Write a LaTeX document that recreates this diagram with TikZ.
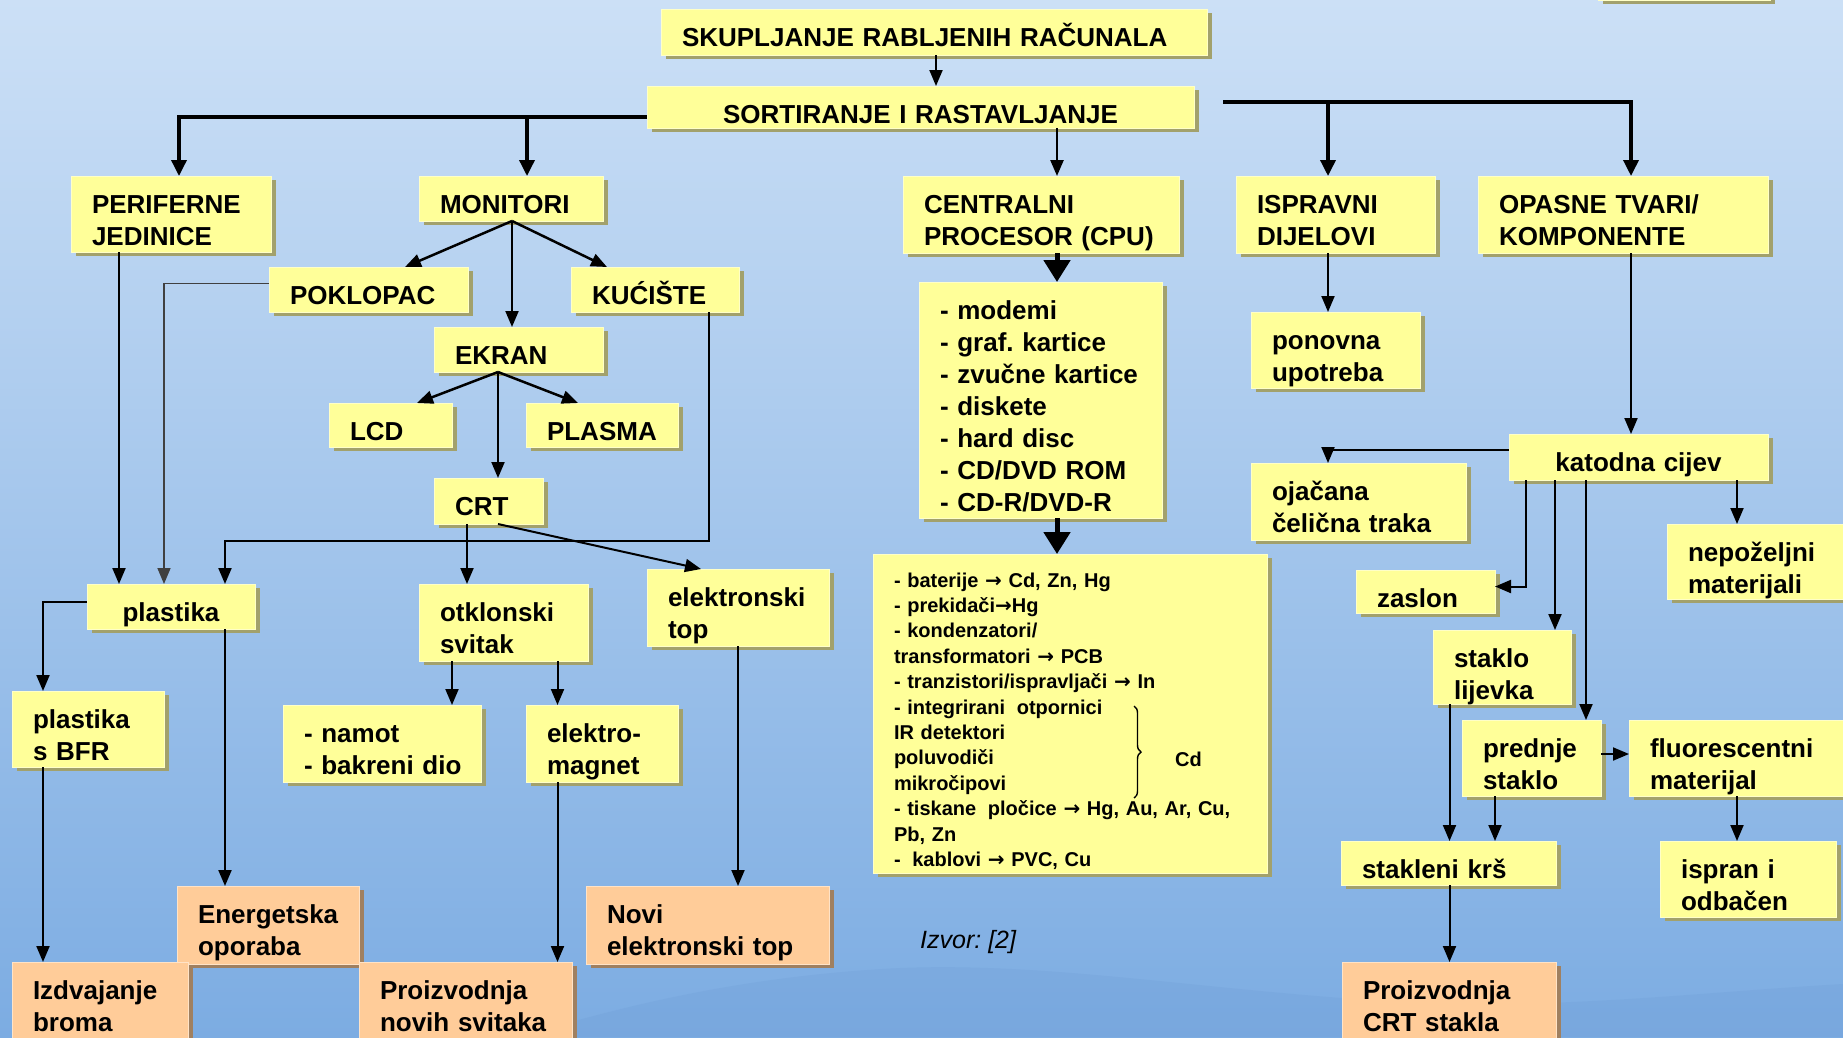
\documentclass[tikz,border=0pt]{standalone}
\usepackage{fontspec}
\setmainfont{Liberation Sans}
\newfontfamily\arrowfont{DejaVu Sans}
\usetikzlibrary{arrows.meta,shadows,decorations.pathreplacing}
\frenchspacing

\definecolor{bgtop}{HTML}{CCE0F6}
\definecolor{bgmid}{HTML}{96BEEC}
\definecolor{bgbot}{HTML}{7CACE2}
\definecolor{hill}{HTML}{6E9CD6}
\definecolor{boxyellow}{HTML}{FFFF99}
\definecolor{shadowyel}{HTML}{A2A16C}
\definecolor{boxorange}{HTML}{FFCC99}
\definecolor{shadoworg}{HTML}{A08060}

\newcommand{\tto}{{\arrowfont →}}

\begin{document}
\begin{tikzpicture}[x=1pt, y=-1pt,
  basebox/.style={anchor=north west, align=left, inner xsep=21pt, inner ysep=0pt,
    outer sep=0pt, text height=37pt, line width=1pt,
    font=\bfseries\fontsize{26}{32}\selectfont},
  ybox/.style={basebox, fill=boxyellow, draw=boxyellow!55!white,
    drop shadow={shadow xshift=5pt, shadow yshift=-4pt, fill=shadowyel, opacity=1}},
  obox/.style={basebox, fill=boxorange, draw=boxorange!55!white,
    drop shadow={shadow xshift=5pt, shadow yshift=-4pt, fill=shadoworg, opacity=1}},
  wh/.style 2 args={text width=#1pt-42pt, text depth=#2pt-37pt},
  arr/.style={-{Triangle[length=16pt,width=13pt]}, line width=2pt},
  tarr/.style={-{Triangle[length=16pt,width=15pt]}, line width=3.5pt},
  bigarr/.style={-{Triangle[length=22pt,width=26pt]}, line width=5pt}
]

\useasboundingbox (0,0) rectangle (1843,1037);
\clip (0,0) rectangle (1843,1037);
\fill[top color=bgtop, middle color=bgmid, bottom color=bgbot] (0,0) rectangle (1843,1037);
\fill[hill, opacity=0.25] (520,1037) .. controls (640,1000) and (760,975) .. (900,968)
  .. controls (1050,962) and (1200,990) .. (1400,1002)
  .. controls (1560,1010) and (1700,992) .. (1843,984) -- (1843,1037) -- cycle;

% top row
\node[ybox, wh={172}{60}] (offpage) at (1598,-60) {};
\node[ybox, wh={546}{46}] (sku) at (661,9) {SKUPLJANJE~RABLJENIH~RAČUNALA};
\node[ybox, wh={547}{42}, align=center] (sort) at (647,86) {SORTIRANJE I RASTAVLJANJE};

\node[ybox, wh={200}{76}] (per) at (71,176) {PERIFERNE\\JEDINICE};
\node[ybox, wh={184}{45}] (mon) at (419,176) {MONITORI};
\node[ybox, wh={276}{77}] (cpu) at (903,176) {CENTRALNI\\PROCESOR~(CPU)};
\node[ybox, wh={199}{77}] (isp) at (1236,176) {ISPRAVNI\\DIJELOVI};
\node[ybox, wh={290}{77}] (opa) at (1478,176) {OPASNE~TVARI/\\KOMPONENTE};

% monitori
\node[ybox, wh={199}{45}] (pok) at (269,267) {POKLOPAC};
\node[ybox, wh={168}{45}] (kuc) at (571,267) {KUĆIŠTE};
\node[ybox, wh={169}{45}] (ekr) at (434,327) {EKRAN};
\node[ybox, wh={123}{44}] (lcd) at (329,403) {LCD};
\node[ybox, wh={152}{44}] (pla) at (526,403) {PLASMA};
\node[ybox, wh={109}{46}] (crt) at (434,478) {CRT};

\node[ybox, wh={168}{45}, align=center] (pls) at (87,584) {plastika};
\node[ybox, wh={152}{76}] (bfr) at (12,691) {plastika\\s BFR};
\node[ybox, wh={169}{77}] (otk) at (419,584) {otklonski\\svitak};
\node[ybox, wh={182}{77}] (etop) at (647,569) {elektronski\\top};
\node[ybox, wh={198}{77}] (nam) at (283,705) {\mbox{- namot}\\\mbox{- bakreni dio}};
\node[ybox, wh={152}{77}] (mag) at (526,705) {elektro-\\magnet};

\node[obox, wh={182}{78}] (ene) at (177,886) {Energetska\\oporaba};
\node[obox, wh={243}{78}] (nov) at (586,886) {Novi\\elektronski~top};
\node[obox, wh={176}{78}] (izd) at (12,962) {Izdvajanje\\broma};
\node[obox, wh={213}{78}] (psv) at (359,962) {Proizvodnja\\novih~svitaka};

% procesor
\node[ybox, wh={243}{236}] (lst) at (919,282)
  {\mbox{- modemi}\\\mbox{- graf. kartice}\\\mbox{- zvučne kartice}\\\mbox{- diskete}\\
   \mbox{- hard disc}\\\mbox{- CD/DVD ROM}\\\mbox{- CD-R/DVD-R}};
\node[ybox, text width=352pt, text height=33pt, text depth=286pt,
  font=\bfseries\fontsize{20}{25.4}\selectfont] (haz) at (873,554)
  {-~baterije \tto{} Cd, Zn, Hg\\
   -~prekidači\tto Hg\\
   -~kondenzatori/\\
   transformatori \tto{} PCB\\
   -~tranzistori/ispravljači \tto{} In\\
   -~integrirani\hspace{5pt} otpornici\\
   IR detektori\\
   poluvodiči\\
   mikročipovi\\
   -~tiskane\hspace{5pt} pločice \tto{} Hg, Au, Ar, Cu,\\
   Pb, Zn\\
   -\hspace{5pt}~kablovi \tto{} PVC, Cu};
\coordinate (brtop) at (1134,706);
\coordinate (brbot) at (1134,798);
\draw[decorate, decoration={brace, amplitude=7pt}, line width=1.4pt] (brtop) -- (brbot);
\node[anchor=base west, inner sep=0pt, font=\bfseries\fontsize{20}{24}\selectfont] (cd) at (1175,766) {Cd};
\node[anchor=base west, inner sep=0pt, font=\itshape\fontsize{25}{30}\selectfont] (izvor) at (920,948) {Izvor: [2]};

% desno
\node[ybox, wh={169}{76}] (pon) at (1251,312) {ponovna\\upotreba};
\node[ybox, wh={259}{46}, align=center] (kat) at (1509,434) {katodna cijev};
\node[ybox, wh={215}{77}] (oja) at (1251,463) {ojačana\\čelična~traka};
\node[ybox, wh={190}{75}] (nep) at (1667,524) {nepoželjni\\materijali};
\node[ybox, wh={139}{43}] (zas) at (1356,570) {zaslon};
\node[ybox, wh={138}{74}] (lij) at (1433,630) {staklo\\lijevka};
\node[ybox, wh={139}{76}] (pre) at (1462,720) {prednje\\staklo};
\node[ybox, wh={220}{76}] (flu) at (1629,720) {fluorescentni\\materijal};
\node[ybox, wh={215}{44}] (krs) at (1341,841) {stakleni~krš};
\node[ybox, wh={176}{76}] (isr) at (1660,841) {ispran i\\odbačen};
\node[obox, wh={214}{78}] (crs) at (1342,962) {Proizvodnja\\CRT~stakla};

% connectors
\draw[arr] ([xshift=275pt]sku.south west) -- ([xshift=289pt]sort.north west);
\draw[tarr] ([yshift=11pt]sort.south west) -| ([xshift=108pt]per.north west);
\draw[tarr] ([xshift=108pt,yshift=59pt]mon.north west) -- ([xshift=108pt]mon.north west);
\draw[arr, line width=2.5pt] ([xshift=410pt]sort.south west) -- ([xshift=154pt]cpu.north west);
\coordinate (rstart) at ([xshift=29pt,yshift=26pt]sort.south east);
\draw[tarr] (rstart) -| ([xshift=153pt]opa.north west);
\draw[tarr] ([xshift=92pt,yshift=74pt]isp.north west) -- ([xshift=92pt]isp.north west);

\draw[bigarr] ([xshift=154pt]cpu.south west) -- ([xshift=138pt]lst.north west);
\draw[bigarr] ([xshift=138pt]lst.south west) -- ([xshift=184pt]haz.north west);

\draw[arr] ([xshift=92pt]isp.south west) -- ([xshift=77pt]pon.north west);
\draw[arr] ([xshift=153pt]opa.south west) -- ([xshift=122pt]kat.north west);
\draw[arr] ([yshift=7pt]kat.west) -| ([xshift=77pt]oja.north west);
\draw[arr] ([xshift=17pt]kat.south west) |- ([yshift=5pt]zas.east);
\draw[arr] ([xshift=46pt]kat.south west) -- ([xshift=122pt]lij.north west);
\draw[arr] ([xshift=77pt]kat.south west) -- ([xshift=124pt]pre.north west);
\draw[arr] ([xshift=228pt]kat.south west) -- ([xshift=70pt]nep.north west);
\draw[arr] ([yshift=4pt]pre.east) -- ([yshift=4pt]flu.west);
\draw[arr] ([xshift=16.5pt]lij.south west) -- ([xshift=108.5pt]krs.north west);
\draw[arr] ([xshift=33pt]pre.south west) -- ([xshift=154pt]krs.north west);
\draw[arr] ([xshift=108pt]flu.south west) -- ([xshift=77pt]isr.north west);
\draw[arr] ([xshift=108.5pt]krs.south west) -- ([xshift=107.5pt]crs.north west);

\draw[arr, line width=2.5pt] ([xshift=93pt]mon.south west) -- ([xshift=136pt]pok.north west);
\draw[arr, line width=2.5pt] ([xshift=93pt]mon.south west) -- ([xshift=36pt]kuc.north west);
\draw[arr] ([xshift=93pt]mon.south west) -- ([xshift=78pt]ekr.north west);
\draw[arr, line width=2.5pt] ([xshift=64pt]ekr.south west) -- ([xshift=88pt]lcd.north west);
\draw[arr, line width=2.5pt] ([xshift=64pt]ekr.south west) -- ([xshift=52pt]pla.north west);
\draw[arr] ([xshift=64pt]ekr.south west) -- ([xshift=64pt]crt.north west);

\draw[arr] ([xshift=48pt]per.south west) -- ([xshift=32pt]pls.north west);
\draw[arr, line width=1.6pt, black!75] ([yshift=6pt]pok.west) -| ([xshift=77pt]pls.north west);
\draw[arr] ([xshift=138pt]kuc.south west) |- ([xshift=138pt,yshift=43pt]pls.north west)
  -- ([xshift=138pt]pls.north west);
\draw[arr] ([xshift=33pt]crt.south west) -- ([xshift=48pt]otk.north west);
\draw[arr] ([xshift=64pt]crt.south west) -- ([xshift=54pt]etop.north west);
\draw[arr] ([yshift=5pt]pls.west) -| ([xshift=31pt]bfr.north west);
\draw[arr] ([xshift=138pt]pls.south west) -- ([xshift=48pt]ene.north west);
\draw[arr] ([xshift=33pt]otk.south west) -- ([xshift=169pt]nam.north west);
\draw[arr] ([xshift=138.5pt]otk.south west) -- ([xshift=31.5pt]mag.north west);
\draw[arr] ([xshift=31.5pt]mag.south west) -- ([xshift=198.5pt]psv.north west);
\draw[arr] ([xshift=91pt]etop.south west) -- ([xshift=152pt]nov.north west);
\draw[arr] ([xshift=31pt]bfr.south west) -- ([xshift=31pt]izd.north west);

\end{tikzpicture}
\end{document}
